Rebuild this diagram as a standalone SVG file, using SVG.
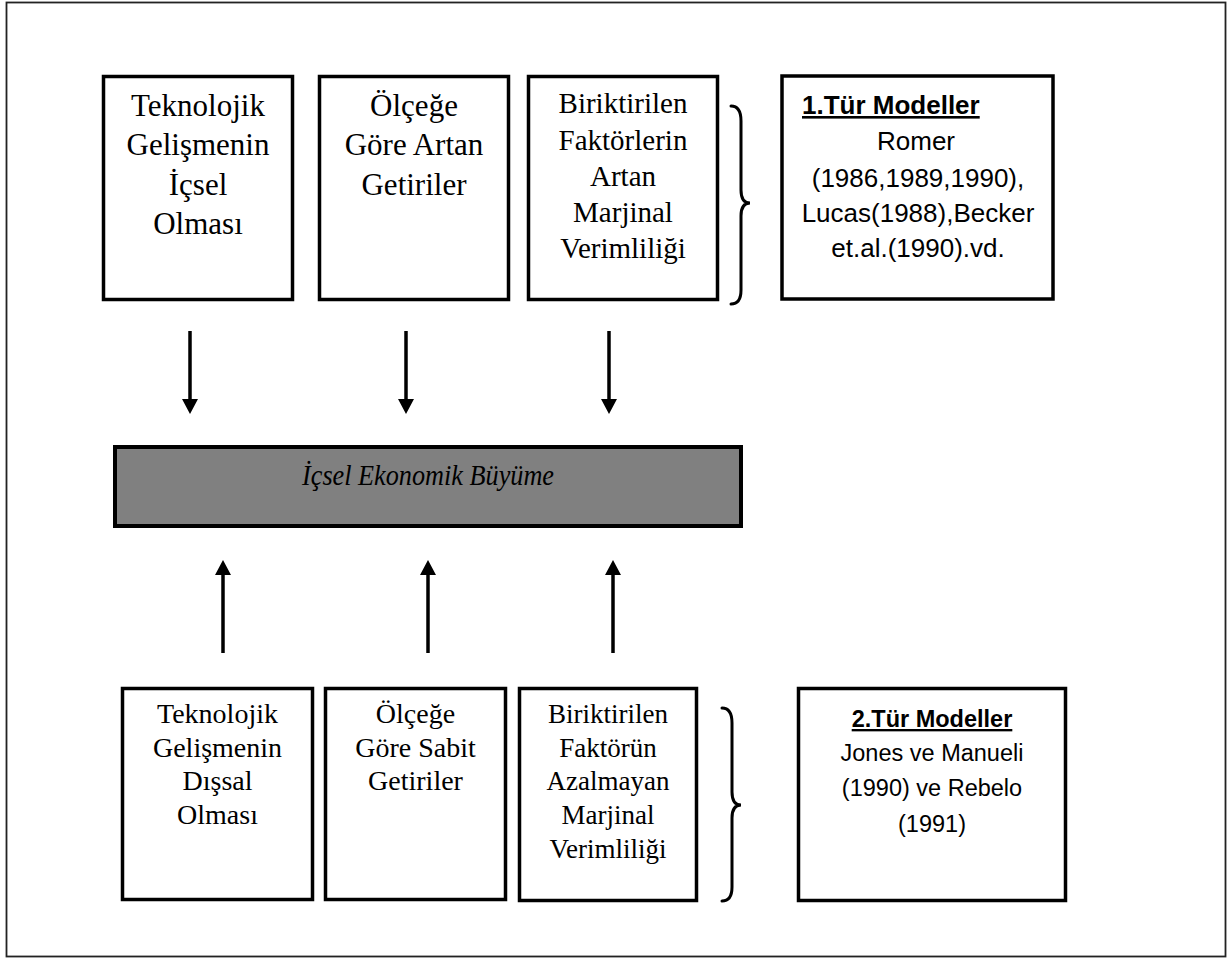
<svg xmlns="http://www.w3.org/2000/svg" width="1231" height="958" viewBox="0 0 1231 958">
<style>
.frame{fill:#fff;stroke:#222;stroke-width:1.8}
.box{fill:#fff;stroke:#000;stroke-width:3.5}
.bar{fill:#808080;stroke:#000;stroke-width:4}
.serif{font-family:"Liberation Serif","Times New Roman",serif;fill:#000;text-anchor:middle}
.sans{font-family:"Liberation Sans",Arial,sans-serif;fill:#000;text-anchor:middle}
.t31{font-size:31px}
.t29{font-size:29px}
.t28{font-size:28px}
.t27{font-size:27px}
.s26{font-size:26px}
.s235{font-size:23.5px}
.head{font-weight:bold;text-decoration:underline}
.conn{stroke:#000;stroke-width:3.5;fill:none}
.brace{stroke:#000;stroke-width:3;fill:none;stroke-linecap:round}
</style>
<defs>
<marker id="ah" markerUnits="userSpaceOnUse" markerWidth="15" markerHeight="16" refX="0" refY="8" orient="auto">
<path d="M0,0 L15,8 L0,16 z" fill="#000"/>
</marker>
</defs>
<rect class="frame" x="6.5" y="2.5" width="1219" height="954"/>

<g id="top1">
<rect class="box" x="103.5" y="76.5" width="189" height="223"/>
<text class="serif t31" x="198" y="115.5">Teknolojik</text>
<text class="serif t31" x="198" y="155">Gelişmenin</text>
<text class="serif t31" x="198" y="194.5">İçsel</text>
<text class="serif t31" x="198" y="234">Olması</text>
</g>
<g id="top2">
<rect class="box" x="319.5" y="76.5" width="189" height="223"/>
<text class="serif t31" x="414" y="115.5">Ölçeğe</text>
<text class="serif t31" x="414" y="155">Göre Artan</text>
<text class="serif t31" x="414" y="194.5">Getiriler</text>
</g>
<g id="top3">
<rect class="box" x="528.5" y="76.5" width="189" height="223"/>
<text class="serif t29" x="623" y="113">Biriktirilen</text>
<text class="serif t29" x="623" y="150">Faktörlerin</text>
<text class="serif t29" x="623" y="186">Artan</text>
<text class="serif t29" x="623" y="222">Marjinal</text>
<text class="serif t29" x="623" y="258">Verimliliği</text>
</g>
<g id="brace1">
<path class="brace" d="M731,106 C738,106 741,111 741,121 L741,190 C741,198 744,203 750,203 C744,203 741,208 741,216 L741,290 C741,299 738,304 731,304"/>
</g>
<g id="models1">
<rect class="box" x="782" y="76" width="271" height="223"/>
<text class="sans s26 head" x="802" y="114" style="text-anchor:start">1.Tür Modeller</text>
<text class="sans s26" x="916" y="150">Romer</text>
<text class="sans s26" x="918" y="186.5">(1986,1989,1990),</text>
<text class="sans s26" x="918" y="222">Lucas(1988),Becker</text>
<text class="sans s26" x="918" y="257">et.al.(1990).vd.</text>
</g>

<g id="growth">
<rect class="bar" x="115" y="447" width="626" height="79"/>
<text class="serif" x="428" y="485" style="font-style:italic;font-size:30px" textLength="252" lengthAdjust="spacingAndGlyphs">İçsel Ekonomik Büyüme</text>
</g>

<g id="bottom1">
<rect class="box" x="122.5" y="688.5" width="190" height="211"/>
<text class="serif t28" x="217.5" y="722.5">Teknolojik</text>
<text class="serif t28" x="217.5" y="756.5">Gelişmenin</text>
<text class="serif t28" x="217.5" y="790">Dışsal</text>
<text class="serif t28" x="217.5" y="823.5">Olması</text>
</g>
<g id="bottom2">
<rect class="box" x="325.5" y="688.5" width="180" height="211"/>
<text class="serif t28" x="415.5" y="722.5">Ölçeğe</text>
<text class="serif t28" x="415.5" y="756.5">Göre Sabit</text>
<text class="serif t28" x="415.5" y="790">Getiriler</text>
</g>
<g id="bottom3">
<rect class="box" x="519.5" y="688.5" width="177" height="212"/>
<text class="serif t27" x="608" y="722.5">Biriktirilen</text>
<text class="serif t27" x="608" y="756.5">Faktörün</text>
<text class="serif t27" x="608" y="790">Azalmayan</text>
<text class="serif t27" x="608" y="823.5">Marjinal</text>
<text class="serif t27" x="608" y="858">Verimliliği</text>
</g>
<g id="brace2">
<path class="brace" d="M722,708 C729,708 732,713 732,723 L732,792 C732,800 735,805 741,805 C735,805 732,810 732,818 L732,887 C732,896 729,901 722,901"/>
</g>
<g id="models2">
<rect class="box" x="798.5" y="688.5" width="267" height="212"/>
<text class="sans s235 head" x="932" y="727">2.Tür Modeller</text>
<text class="sans s235" x="932" y="760.5">Jones ve Manueli</text>
<text class="sans s235" x="932" y="796">(1990) ve Rebelo</text>
<text class="sans s235" x="932" y="831.5">(1991)</text>
</g>

<g id="connectors">
<line class="conn" x1="190" y1="331" x2="190" y2="399" marker-end="url(#ah)"/>
<line class="conn" x1="406" y1="331" x2="406" y2="399" marker-end="url(#ah)"/>
<line class="conn" x1="609" y1="331" x2="609" y2="399" marker-end="url(#ah)"/>
<line class="conn" x1="223" y1="653" x2="223" y2="575" marker-end="url(#ah)"/>
<line class="conn" x1="428" y1="653" x2="428" y2="575" marker-end="url(#ah)"/>
<line class="conn" x1="613" y1="653" x2="613" y2="575" marker-end="url(#ah)"/>
</g>
</svg>
